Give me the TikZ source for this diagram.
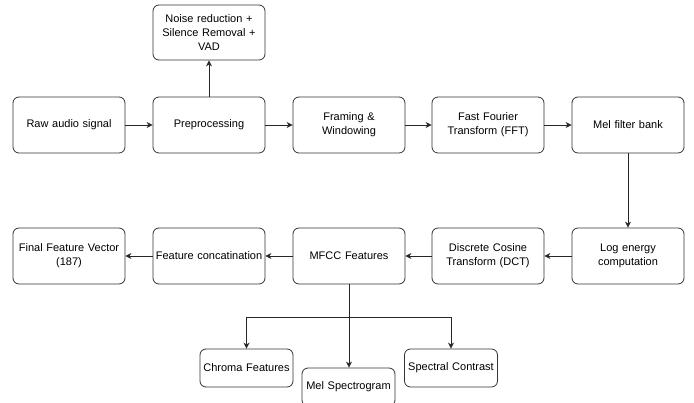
\documentclass[tikz,border=0pt]{standalone}
\usepackage{fontspec}
\setmainfont{Liberation Sans}
\usepackage{tikz}
\usetikzlibrary{positioning, arrows.meta, calc}

\begin{document}
\begin{tikzpicture}[
    x=1pt, y=-1pt,
    block/.style={rectangle, rounded corners=6pt, draw=black!80, line width=0.8pt, minimum width=112pt, minimum height=56pt, text width=108pt, align=center, inner sep=1pt, font=\fontsize{11}{14}\selectfont},
    small/.style={block, minimum width=93pt, minimum height=38pt, text width=91pt},
    arrow/.style={-{Stealth[length=6pt, width=6pt]}, line width=0.8pt, black!85}
]
\clip (0,0) rectangle (694,403);

% Top row: feature pipeline
\node[block] (raw) at (69, 125) {Raw audio signal};
\node[block] (pre) at (209, 125) {Preprocessing};
\node[block] (frame) at (349, 125) {Framing \&\\ Windowing};
\node[block] (fft) at (488, 125) {Fast Fourier\\ Transform (FFT)};
\node[block] (melfb) at (628, 125) {Mel filter bank};

% Preprocessing details
\node[block, minimum height=55pt] (noise) at (209, 32.5) {Noise reduction +\\ Silence Removal +\\ VAD};

% Bottom row (right to left)
\node[block] (logen) at (628, 256) {Log energy\\ computation};
\node[block] (dct) at (488, 256) {Discrete Cosine\\ Transform (DCT)};
\node[block] (mfcc) at (349, 256) {MFCC Features};
\node[block] (concat) at (209, 256) {Feature concatination};
\node[block] (final) at (69, 256) {Final Feature Vector\\ (187)};

% Extra features
\node[small] (chroma) at (246.5, 368) {Chroma Features};
\node[small] (melspec) at (348.5, 387) {Mel Spectrogram};
\node[small] (contrast) at (451, 368) {Spectral Contrast};

% Connectors
\draw[arrow] (raw) -- (pre);
\draw[arrow] (pre) -- (noise);
\draw[arrow] (pre) -- (frame);
\draw[arrow] (frame) -- (fft);
\draw[arrow] (fft) -- (melfb);
\draw[arrow] (melfb) -- (logen);
\draw[arrow] (logen) -- (dct);
\draw[arrow] (dct) -- (mfcc);
\draw[arrow] (mfcc) -- (concat);
\draw[arrow] (concat) -- (final);

% Branch below MFCC
\coordinate (split) at ($(mfcc.south)+(0,33)$);
\draw[arrow] (mfcc.south) -- (mfcc.south |- melspec.north);
\draw[arrow] (split) -| (chroma.north);
\draw[arrow] (split) -| (contrast.north);

\end{tikzpicture}
\end{document}
